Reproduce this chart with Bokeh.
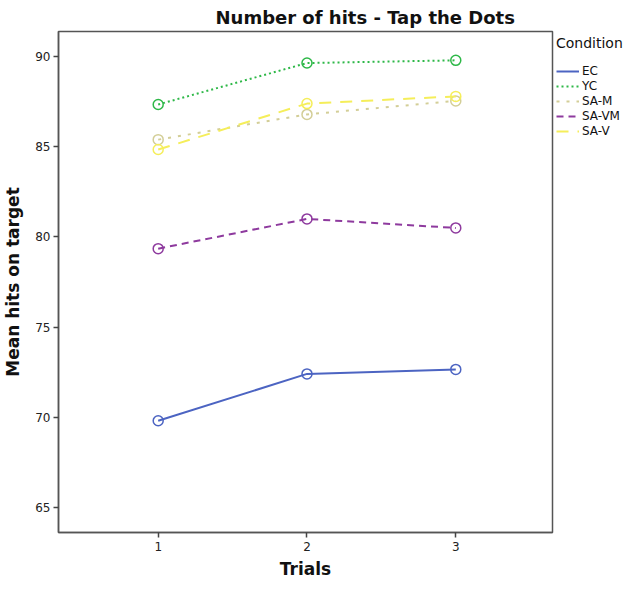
from bokeh.plotting import figure
from bokeh.models import Legend, LegendItem, Range1d, FixedTicker, Title
from bokeh.embed import file_html
from bokeh.resources import INLINE

trials = [1, 2, 3]
conditions = ["EC", "YC", "SA-M", "SA-VM", "SA-V"]
ec = [69.8, 72.4, 72.65]
yc = [87.35, 89.65, 89.8]
sa_m = [85.4, 86.8, 87.55]
sa_vm = [79.35, 81.0, 80.5]
sa_v = [84.85, 87.4, 87.8]
series = [ec, yc, sa_m, sa_vm, sa_v]
colors = ["#4C64C2", "#2EB848", "#D3CE97", "#8E3A9E", "#F5EE5A"]
dashes = ["solid", "2 3", "3 7", "7 5", "12 9"]
y_ticks = [65, 70, 75, 80, 85, 90]
x_ticks = [1, 2, 3]

FONT = "DejaVu Sans"

p = figure(frame_width=494, frame_height=501, output_backend="svg",
           toolbar_location=None, x_range=Range1d(0.33, 3.65),
           y_range=Range1d(63.6, 91.4), min_border_left=57, min_border_top=31,
           min_border_bottom=0, min_border_right=0)
p.title = Title(text="Number of hits - Tap the Dots", align="left", offset=157,
                text_font=FONT, text_font_size="18px", text_font_style="bold",
                text_color="#111111", standoff=8)
p.xgrid.visible = False
p.ygrid.visible = False
p.outline_line_color = "#555555"
p.outline_line_width = 1.5

for ax in (p.xaxis[0], p.yaxis[0]):
    ax.axis_line_color = "#555555"
    ax.axis_line_width = 1.5
    ax.major_tick_line_color = "#444444"
    ax.major_tick_line_width = 1.5
    ax.major_tick_out = 5
    ax.major_tick_in = 0
    ax.minor_tick_line_color = None
    ax.major_label_text_font = FONT
    ax.major_label_text_font_size = "12px"
    ax.major_label_text_color = "#222222"
    ax.axis_label_text_font = FONT
    ax.axis_label_text_font_size = "17px"
    ax.axis_label_text_font_style = "bold"
    ax.axis_label_text_color = "#111111"

p.xaxis.ticker = FixedTicker(ticks=x_ticks)
p.yaxis.ticker = FixedTicker(ticks=y_ticks)
p.xaxis.axis_label = "Trials"
p.yaxis.axis_label = "Mean hits on target"
p.xaxis.major_label_standoff = 4
p.yaxis.major_label_standoff = 3
p.xaxis.axis_label_standoff = 5
p.yaxis.axis_label_standoff = 9

items = []
for name, vals, c, d in zip(conditions, series, colors, dashes):
    r = p.line(trials, vals, line_color=c, line_width=2, line_dash=d)
    p.scatter(trials, vals, marker="circle", size=10, fill_color=None,
              line_color=c, line_width=1.5)
    items.append(LegendItem(label=name, renderers=[r]))

legend = Legend(items=items, title="Condition", location="top_left",
                title_text_font=FONT, title_text_font_size="14px",
                title_text_font_style="normal", title_text_color="#111111",
                label_text_font=FONT, label_text_font_size="12px",
                label_text_color="#111111", border_line_color=None,
                background_fill_alpha=0, glyph_width=23, glyph_height=14,
                label_height=14, spacing=1, padding=1, margin=4,
                label_standoff=3, title_standoff=13)
p.add_layout(legend, "right")

open("out.html", "w").write(file_html(p, INLINE))
